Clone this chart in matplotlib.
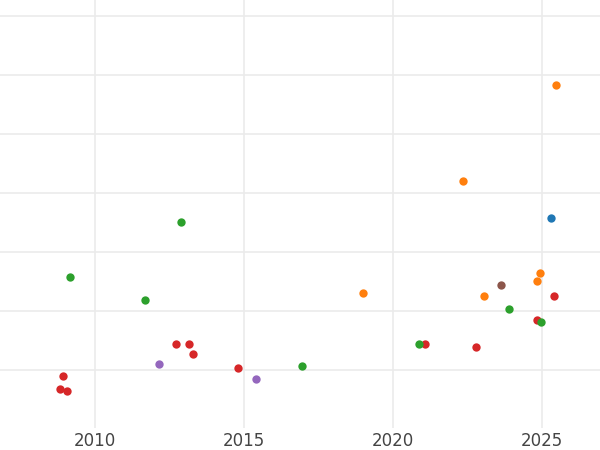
import matplotlib
matplotlib.use("Agg")
import matplotlib.pyplot as plt

red_x = [2008.83, 2008.93, 2009.06, 2012.72, 2013.15, 2013.29, 2014.80, 2021.07, 2022.79, 2024.83, 2025.40]
red_y = [-0.32, -0.10, -0.36, 0.43, 0.44, 0.26, 0.03, 0.43, 0.39, 0.84, 1.26]
green_x = [2009.16, 2011.68, 2012.89, 2016.95, 2020.87, 2023.89, 2024.97]
green_y = [1.57, 1.19, 2.51, 0.07, 0.44, 1.04, 0.82]
purple_x = [2012.15, 2015.40]
purple_y = [0.09, -0.15]
orange_x = [2018.99, 2022.35, 2023.07, 2024.83, 2024.93, 2025.47]
orange_y = [1.30, 3.20, 1.26, 1.50, 1.65, 4.84]
blue_x = [2025.30]
blue_y = [2.57]
brown_x = [2023.62]
brown_y = [1.44]

fig = plt.figure(figsize=(6, 4.5), dpi=100)
ax = fig.add_axes([0, 0.05, 1, 0.95])
for xs, ys, c in [(red_x, red_y, "#d62728"), (green_x, green_y, "#2ca02c"),
                  (purple_x, purple_y, "#9467bd"), (orange_x, orange_y, "#ff7f0e"),
                  (blue_x, blue_y, "#1f77b4"), (brown_x, brown_y, "#8c564b")]:
    ax.scatter(xs, ys, s=36, color=c, zorder=3, linewidths=0)
ax.set_xlim(2006.81, 2026.95)
ax.set_ylim(-0.98, 6.28)
ax.set_yticks(range(0, 7))
ax.set_yticklabels([])
ax.set_xticks([2010, 2015, 2020, 2025])
ax.tick_params(length=0, labelsize=12, labelcolor="#444444", pad=3)
ax.grid(True, color="#ebebeb", linewidth=1.2, zorder=0)
for s in ax.spines.values():
    s.set_visible(False)
fig.savefig("out.png", dpi=100)
